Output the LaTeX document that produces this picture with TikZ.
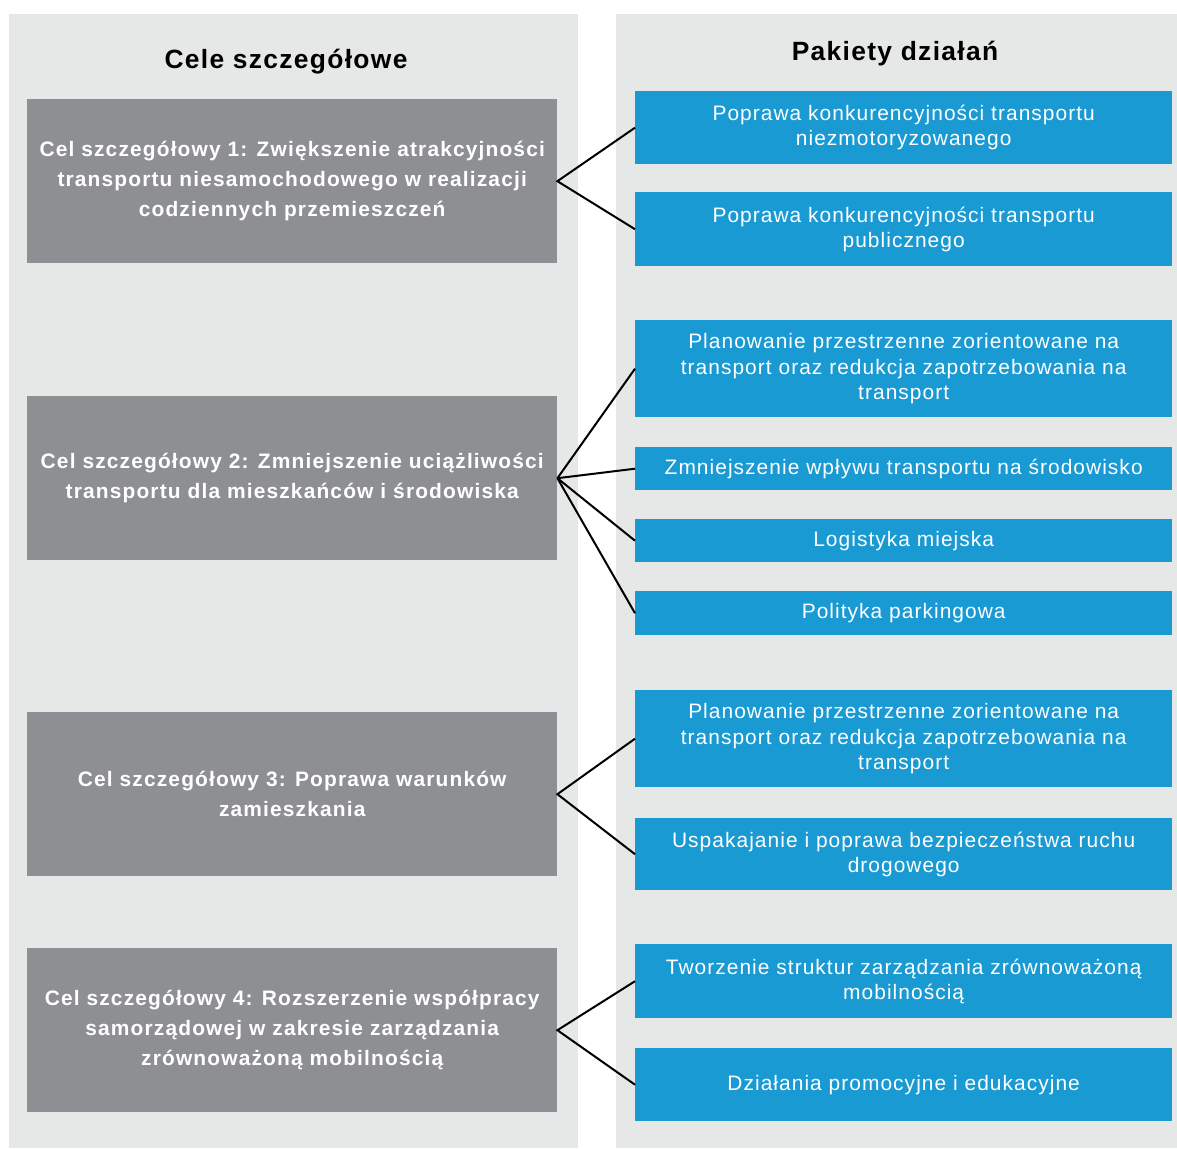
\documentclass[tikz,border=0pt]{standalone}
\usepackage{fontspec}
\setmainfont{Liberation Sans}
\newfontfamily\goalfont[LetterSpace=5.5]{Liberation Sans}
\newfontfamily\packfont[LetterSpace=5.0]{Liberation Sans}
\newfontfamily\titlefont[LetterSpace=5.0]{Liberation Sans}
\definecolor{panelgray}{HTML}{E6E7E7}
\definecolor{goalgray}{HTML}{8E8F93}
\definecolor{packblue}{HTML}{1A9AD3}
\begin{document}
\begin{tikzpicture}[x=1bp,y=-1bp,
  goal/.style={fill=goalgray, text=white, font=\goalfont\bfseries\fontsize{21}{30}\selectfont,
    align=center, minimum width=530bp, minimum height=164bp, inner sep=0pt, anchor=north west},
  pack/.style={fill=packblue, text=white, font=\packfont\fontsize{21}{25.5}\selectfont,
    align=center, minimum width=537bp, inner sep=0pt, anchor=north west},
  title/.style={font=\titlefont\bfseries\fontsize{26.5}{30}\selectfont, text=black, inner sep=0pt},
  link/.style={draw=black, line width=2bp}]
\useasboundingbox (0,0) rectangle (1177,1149);
\fill[panelgray] (9,14) rectangle (578,1148);
\fill[panelgray] (616,14) rectangle (1177,1148);
\node[title] (t1) at (286,62) {Cele szczegółowe};
\node[title] (t2) at (895,54) {Pakiety działań};
% goals
\node[goal] (g1) at (27,99) {Cel szczegółowy 1: Zwiększenie atrakcyjności\\transportu niesamochodowego w realizacji\\codziennych przemieszczeń};
\node[goal] (g2) at (27,396) {Cel szczegółowy 2: Zmniejszenie uciążliwości\\transportu dla mieszkańców i środowiska};
\node[goal] (g3) at (27,712) {Cel szczegółowy 3: Poprawa warunków\\zamieszkania};
\node[goal] (g4) at (27,948) {Cel szczegółowy 4: Rozszerzenie współpracy\\samorządowej w zakresie zarządzania\\zrównoważoną mobilnością};
% packages
\node[pack, minimum height=73bp] (b1) at (635,91) {Poprawa konkurencyjności transportu\\niezmotoryzowanego};
\node[pack, minimum height=74bp] (b2) at (635,192) {Poprawa konkurencyjności transportu\\publicznego};
\node[pack, minimum height=97bp] (b3) at (635,320) {Planowanie przestrzenne zorientowane na\\transport oraz redukcja zapotrzebowania na\\transport};
\node[pack, minimum height=43bp] (b4) at (635,447) {Zmniejszenie wpływu transportu na środowisko};
\node[pack, minimum height=43bp] (b5) at (635,519) {Logistyka miejska};
\node[pack, minimum height=44bp] (b6) at (635,591) {Polityka parkingowa};
\node[pack, minimum height=97bp] (b7) at (635,690) {Planowanie przestrzenne zorientowane na\\transport oraz redukcja zapotrzebowania na\\transport};
\node[pack, minimum height=72bp] (b8) at (635,818) {Uspakajanie i poprawa bezpieczeństwa ruchu\\drogowego};
\node[pack, minimum height=74bp] (b9) at (635,944) {Tworzenie struktur zarządzania zrównoważoną\\mobilnością};
\node[pack, minimum height=73bp] (b10) at (635,1048) {Działania promocyjne i edukacyjne};
% connectors
\draw[link] (b1.west) -- (g1.east) -- (b2.west);
\draw[link] (g2.east) -- (b3.west);
\draw[link] (g2.east) -- (b4.west);
\draw[link] (g2.east) -- (b5.west);
\draw[link] (g2.east) -- (b6.west);
\draw[link] (b7.west) -- (g3.east) -- (b8.west);
\draw[link] (b9.west) -- (g4.east) -- (b10.west);
\end{tikzpicture}
\end{document}
